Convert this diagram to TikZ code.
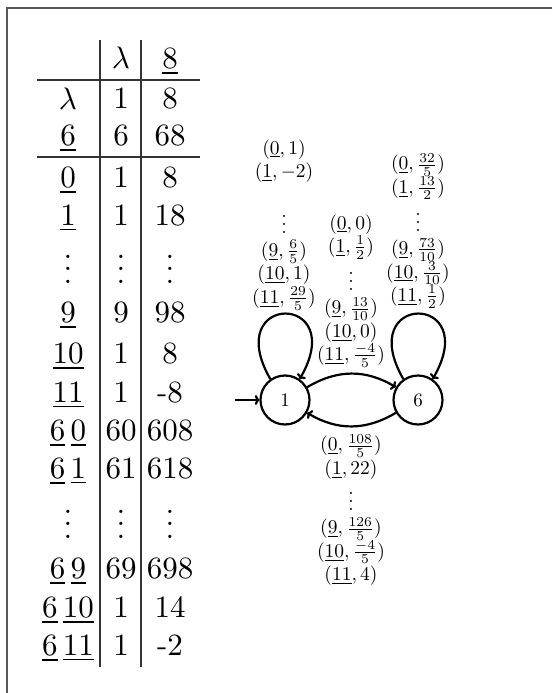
\RequirePackage{fix-cm}
\documentclass[tikz,border=0pt]{standalone}
\usetikzlibrary{arrows.meta}
\begin{document}
\begin{tikzpicture}[x=1pt,y=-1pt,
  frame/.style={draw=black!65,line width=1.8pt},
  rule/.style={draw=black!80,line width=1.2pt},
  cell/.style={anchor=base,inner sep=0pt,scale=3.1},
  state/.style={circle,draw,line width=2.2pt,minimum size=49pt,inner sep=0pt},
  arc/.style={line width=2.2pt,-{To[length=4.5pt,width=10pt]}},
  lbl/.style={align=center,inner sep=0pt,anchor=north,scale=1.95}]
\useasboundingbox (0,0) rectangle (552,693);
% frame
\coordinate (fr1) at (552,8);
\coordinate (fr2) at (7,8);
\coordinate (fr3) at (7,693);
\draw[frame] (fr1) -- (fr2) -- (fr3);
% table rules
\draw[rule] (100,40) -- (100,667);
\draw[rule] (141,40) -- (141,667);
\draw[rule] (37,80) -- (200,80);
\draw[rule] (37,157) -- (200,157);
% header
\node[cell] (h2) at (121,69) {$\lambda$};
\node[cell] (h3) at (170,68) {\underline{8}};
% rows
\node[cell] (a1) at (68,109) {$\lambda$};
\node[cell] (a2) at (121,108) {1};
\node[cell] (a3) at (170,108) {8};
\node[cell] (b1) at (68,145) {\underline{6}};
\node[cell] (b2) at (121,145) {6};
\node[cell] (b3) at (170,145) {68};
\node[cell] (c1) at (68,187) {\underline{0}};
\node[cell] (c2) at (121,187) {1};
\node[cell] (c3) at (170,187) {8};
\node[cell] (d1) at (68,225) {\underline{1}};
\node[cell] (d2) at (121,225) {1};
\node[cell] (d3) at (170,225) {18};
\node[cell] (e1) at (68,283) {$\vdots$};
\node[cell] (e2) at (121,283) {$\vdots$};
\node[cell] (e3) at (170,283) {$\vdots$};
\node[cell] (f1) at (68,322) {\underline{9}};
\node[cell] (f2) at (121,322) {9};
\node[cell] (f3) at (170,322) {98};
\node[cell] (g1) at (68,363) {\underline{10}};
\node[cell] (g2) at (121,363) {1};
\node[cell] (g3) at (170,363) {8};
\node[cell] (i1) at (68,402) {\underline{11}};
\node[cell] (i2) at (121,402) {1};
\node[cell] (i3) at (170,402) {-8};
\node[cell] (j1) at (68,440) {\underline{6}\,\underline{0}};
\node[cell] (j2) at (121,440) {60};
\node[cell] (j3) at (170,440) {608};
\node[cell] (k1) at (68,478) {\underline{6}\,\underline{1}};
\node[cell] (k2) at (121,478) {61};
\node[cell] (k3) at (170,478) {618};
\node[cell] (l1) at (68,538) {$\vdots$};
\node[cell] (l2) at (121,538) {$\vdots$};
\node[cell] (l3) at (170,538) {$\vdots$};
\node[cell] (m1) at (68,578) {\underline{6}\,\underline{9}};
\node[cell] (m2) at (121,578) {69};
\node[cell] (m3) at (170,578) {698};
\node[cell] (o1) at (68,617) {\underline{6}\,\underline{10}};
\node[cell] (o2) at (121,617) {1};
\node[cell] (o3) at (170,617) {14};
\node[cell] (p1) at (68,655) {\underline{6}\,\underline{11}};
\node[cell] (p2) at (121,655) {1};
\node[cell] (p3) at (170,655) {-2};
% automaton
\node[state] (n1) at (285,400) {\scalebox{1.9}{1}};
\node[state] (n6) at (418,400) {\scalebox{1.9}{6}};
\coordinate (init) at (235,400);
\draw[arc] (init) -- (n1);
\draw[arc] (n1.125) .. controls +(-50,-87) and +(50,-87) .. (n1.55);
\draw[arc] (n6.125) .. controls +(-50,-87) and +(50,-87) .. (n6.55);
\draw[arc] (n1.30) .. controls +(30,-18) and +(-30,-18) .. (n6.150);
\draw[arc] (n6.210) .. controls +(-30,18) and +(30,18) .. (n1.330);
% labels
\node[lbl] (L1) at (284,139) {$(\underline{0},1)$\\$(\underline{1},-2)$\\[10pt]$\vdots$\\$(\underline{9},\frac{6}{5})$\\$(\underline{10},1)$\\$(\underline{11},\frac{29}{5})$};
\node[lbl] (L6) at (418,153) {$(\underline{0},\frac{32}{5})$\\$(\underline{1},\frac{13}{2})$\\$\vdots$\\$(\underline{9},\frac{73}{10})$\\$(\underline{10},\frac{3}{10})$\\$(\underline{11},\frac{1}{2})$};
\node[lbl] (Lm) at (351,214) {$(\underline{0},0)$\\$(\underline{1},\frac{1}{2})$\\$\vdots$\\$(\underline{9},\frac{13}{10})$\\$(\underline{10},0)$\\$(\underline{11},\frac{-4}{5})$};
\node[lbl] (Lb) at (351,434) {$(\underline{0},\frac{108}{5})$\\$(\underline{1},22)$\\$\vdots$\\$(\underline{9},\frac{126}{5})$\\$(\underline{10},\frac{-4}{5})$\\$(\underline{11},4)$};
\end{tikzpicture}
\end{document}
